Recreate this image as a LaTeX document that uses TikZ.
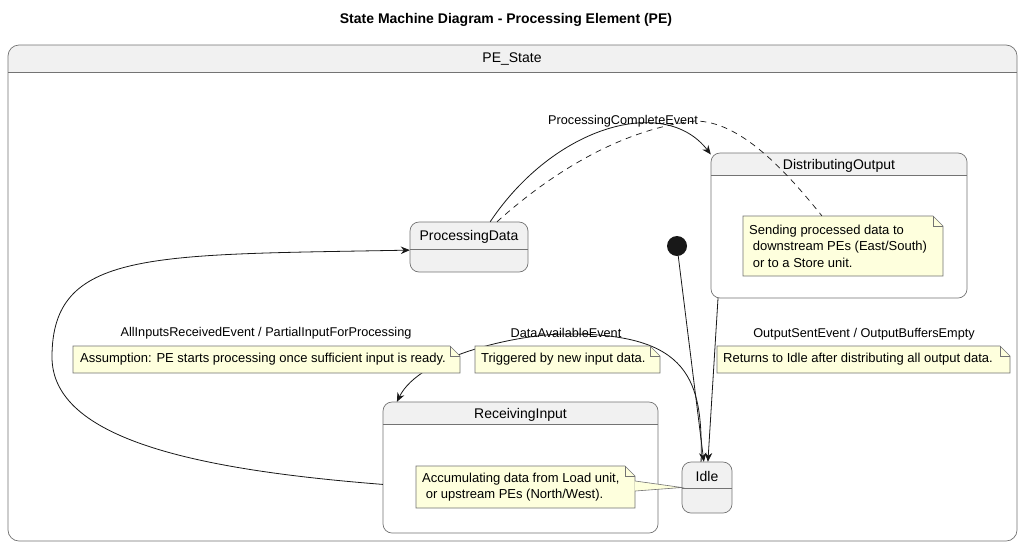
\documentclass[tikz,border=0pt]{standalone}
\usepackage{fontspec}
\setmainfont{Liberation Sans}
\usetikzlibrary{arrows.meta,calc}
\definecolor{hdrgray}{HTML}{F1F1F1}
\definecolor{notebg}{HTML}{FEFFDD}
\definecolor{edgeblk}{HTML}{181818}

\begin{document}
\begin{tikzpicture}[x=1pt,y=-1pt,
  stline/.style={draw=black!55,line width=0.7pt},
  noteline/.style={draw=black!55,line width=0.6pt},
  trans/.style={edgeblk,line width=0.8pt,-{Stealth[length=9pt,width=7.5pt,inset=3pt]}},
  notetxt/.style={anchor=west,align=left,inner sep=0pt,font=\fontsize{13}{16.5}\selectfont},
  lbl/.style={font=\fontsize{12.7}{15}\selectfont,inner sep=0pt},
  stname/.style={font=\fontsize{14}{16}\selectfont,inner sep=0pt}]
  \useasboundingbox (0,0) rectangle (1024,547);
  \fill[white] (0,0) rectangle (1024,547);
  \node[font=\bfseries\fontsize{14}{16}\selectfont] (title) at (506,20) {State Machine Diagram - Processing Element (PE)};

  % outer composite state
  \begin{scope}
    \clip[rounded corners=11] (8,45) rectangle (1017,541);
    \fill[hdrgray] (8,45) rectangle (1017,72);
  \end{scope}
  \draw[stline,rounded corners=11] (8,45) rectangle (1017,541);
  \draw[stline] (8,72) -- (1017,72);
  \node[stname] (pestate) at (512,59) {PE\_State};

  % states: name/left/top/right/bottom/header line/body fill/label
  \foreach \n/\xa/\ya/\xb/\yb/\yh/\bg/\lab in {
    proc/410/222/528/272/249/hdrgray/ProcessingData,
    dist/711/153/967/298/175/white/DistributingOutput,
    recv/383/402/658/533/424/white/ReceivingInput,
    idle/682/462/732/513/488/hdrgray/Idle}
  {
    \begin{scope}
      \clip[rounded corners=9] (\xa,\ya) rectangle (\xb,\yb);
      \fill[\bg] (\xa,\ya) rectangle (\xb,\yb);
      \fill[hdrgray] (\xa,\ya) rectangle (\xb,\yh);
    \end{scope}
    \draw[stline,rounded corners=9] (\xa,\ya) rectangle (\xb,\yb);
    \draw[stline] (\xa,\yh) -- (\xb,\yh);
    \node[stname] (\n-title) at ({(\xa+\xb)/2},{(\ya+\yh)/2+1.5}) {\lab};
    \node[inner sep=0pt,minimum width={(\xb-\xa)*1pt},minimum height={(\yb-\ya)*1pt}] (\n) at ({(\xa+\xb)/2},{(\ya+\yb)/2}) {};
  }

  % notes inside states
  \foreach \n/\xa/\ya/\xb/\yb in {sendnote/743/216/943/276, accnote/416/466/635/508}
  {
    \filldraw[noteline,fill=notebg] (\xa,\ya) -- ({\xb-10},\ya) -- (\xb,{\ya+10}) -- (\xb,\yb) -- (\xa,\yb) -- cycle;
    \draw[noteline] ({\xb-10},\ya) -- ({\xb-10},{\ya+10}) -- (\xb,{\ya+10});
    \node[inner sep=0pt,minimum width={(\xb-\xa)*1pt},minimum height={(\yb-\ya)*1pt}] (\n) at ({(\xa+\xb)/2},{(\ya+\yb)/2}) {};
  }
  \node[notetxt] (sendtxt) at (749,246) {Sending processed data to\\\ downstream PEs (East/South)\\\ or to a Store unit.};
  \node[notetxt] (acctxt) at (422,487) {Accumulating data from Load unit,\\\ or upstream PEs (North/West).};
  \fill[notebg] ($(accnote.east)+(-0.5,-6)$) -- (idle.west) -- ($(accnote.east)+(-0.5,4)$) -- cycle;
  \draw[noteline] ($(accnote.east)+(0,-6)$) -- (idle.west) -- ($(accnote.east)+(0,4)$);

  % initial state
  \node[circle,fill=edgeblk,minimum size=20pt,inner sep=0pt] (init) at (677,246) {};

  % transitions
  \draw[trans] (init) -- (idle.97);
  \draw[trans] (dist.211) -- (idle.88);
  \draw[trans] (proc.50) .. controls (555,125) and (665,95) .. (dist.151);
  \draw[edgeblk,line width=0.7pt,dash pattern=on 6pt off 5pt] (proc.42) .. controls (560,165) and (630,128) .. (695,121) .. controls (740,121) and (785,170) .. (sendnote.125);
  \draw[trans] (idle.103) .. controls (703,380) and (690,333) .. (566,334) .. controls (520,334) and (420,355) .. (recv.152);
  \draw[trans] (recv.187) .. controls (200,470) and (52,440) .. (52,357) .. controls (52,250) and (150,255) .. (proc.183);

  % notes on transitions
  \foreach \n/\xa/\ya/\xb/\yb in {assumnote/73/346/460/373, trignote/475/346/660/373, retnote/717/346/1010/373}
  {
    \filldraw[noteline,fill=notebg] (\xa,\ya) -- ({\xb-10},\ya) -- (\xb,{\ya+10}) -- (\xb,\yb) -- (\xa,\yb) -- cycle;
    \draw[noteline] ({\xb-10},\ya) -- ({\xb-10},{\ya+10}) -- (\xb,{\ya+10});
    \node[inner sep=0pt,minimum width={(\xb-\xa)*1pt},minimum height={(\yb-\ya)*1pt}] (\n) at ({(\xa+\xb)/2},{(\ya+\yb)/2}) {};
  }
  \node[notetxt] (assumtxt) at (80,359.5) {Assumption: PE starts processing once sufficient input is ready.};
  \node[notetxt] (trigtxt) at (481,359.5) {Triggered by new input data.};
  \node[notetxt] (rettxt) at (723,359.5) {Returns to Idle after distributing all output data.};

  % transition labels
  \node[lbl] (pclbl) at (623,121) {ProcessingCompleteEvent};
  \node[lbl] (dalbl) at (566,333) {DataAvailableEvent};
  \node[lbl] (ailbl) at (266,333) {AllInputsReceivedEvent / PartialInputForProcessing};
  \node[lbl] (oslbl) at (864,334) {OutputSentEvent / OutputBuffersEmpty};
\end{tikzpicture}
\end{document}
